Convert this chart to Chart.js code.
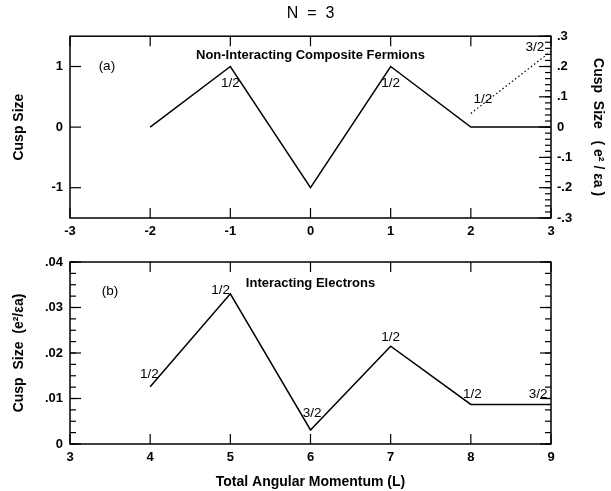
<!DOCTYPE html>
<html>
<head>
<meta charset="utf-8">
<script src="https://cdn.jsdelivr.net/npm/chart.js@4"></script>
<style>
  html, body { margin: 0; padding: 0; background: #fff; }
  #wrap { position: relative; width: 611px; height: 491px; }
  #top { position: absolute; left: 0; top: 0; }
  #bottom { position: absolute; left: 0; top: 245px; }
</style>
</head>
<body>
<div id="wrap">
  <canvas id="top" width="611" height="245"></canvas>
  <canvas id="bottom" width="611" height="246"></canvas>
</div>
<script>
// panel (a) - non-interacting composite fermions
const cfL = [-2, -1, 0, 1, 2, 3];
const cfCusp = [0, 1, -1, 1, 0, 0];
const cfDotL = [2, 3];
const cfDotCusp = [0.045, 0.25]; // read on the right axis (e^2/εa)
const cfTicksX = [-3, -2, -1, 0, 1, 2, 3];
const cfTicksLeft = [-1, 0, 1];
const cfTicksRight = [-0.3, -0.2, -0.1, 0, 0.1, 0.2, 0.3];
const cfNotes = [['1/2', -1, 0.72], ['1/2', 1, 0.72], ['1/2', 2.15, 0.46], ['3/2', 2.8, 1.31]];

// panel (b) - interacting electrons
const elL = [4, 5, 6, 7, 8, 9];
const elCusp = [0.0126, 0.033, 0.0031, 0.0215, 0.0087, 0.0087];
const elTicksX = [3, 4, 5, 6, 7, 8, 9];
const elTicksY = [0, 0.01, 0.02, 0.03, 0.04];
const elNotes = [['1/2', 3.99, 0.0153], ['1/2', 4.88, 0.0338], ['3/2', 6.02, 0.0068],
                 ['1/2', 7.0, 0.0235], ['1/2', 8.02, 0.011], ['3/2', 8.84, 0.011]];

const FAM = '"Liberation Sans", Arial, Helvetica, sans-serif';
const tickFont = { family: FAM, size: 13, weight: 'bold' };
const titleFont = { family: FAM, size: 14, weight: 'bold' };
const fmt = v => v === 0 ? '0' : String(v).replace('0.', '.');
const setTicks = arr => s => { s.ticks = arr.map(v => ({ value: v })); };

function steps(a, b, d) {
  const out = [];
  for (let v = a; v <= b + d / 2; v += d) out.push(+v.toFixed(6));
  return out;
}

// frame, inward tick marks and text notes
const framePlugin = {
  id: 'frame',
  afterDatasetsDraw(chart, args, opts) {
    const { ctx, chartArea: a } = chart;
    ctx.save();
    ctx.strokeStyle = '#000';
    ctx.lineWidth = 1.5;
    ctx.strokeRect(a.left, a.top, a.right - a.left, a.bottom - a.top);
    ctx.lineWidth = 1.2;
    opts.marks.forEach(m => {
      const s = chart.scales[m.axis];
      m.values.forEach(v => {
        const p = s.getPixelForValue(v);
        ctx.beginPath();
        if (s.isHorizontal()) {
          ctx.moveTo(p, a.bottom); ctx.lineTo(p, a.bottom - m.len);
          ctx.moveTo(p, a.top); ctx.lineTo(p, a.top + m.len);
        } else if (m.side === 'left') {
          ctx.moveTo(a.left, p); ctx.lineTo(a.left + m.len, p);
        } else {
          ctx.moveTo(a.right, p); ctx.lineTo(a.right - m.len, p);
        }
        ctx.stroke();
      });
    });
    ctx.fillStyle = '#000';
    ctx.textAlign = 'center';
    ctx.textBaseline = 'middle';
    opts.notes.forEach(([t, x, y, size, weight]) => {
      ctx.font = (weight || 'normal') + ' ' + (size || 13.5) + 'px ' + FAM;
      ctx.fillText(t, chart.scales.x.getPixelForValue(x), chart.scales.y.getPixelForValue(y));
    });
    ctx.restore();
  }
};

const lineStyle = { borderColor: '#000', borderWidth: 1.5, pointRadius: 0, tension: 0, fill: false };

new Chart(document.getElementById('top'), {
  type: 'line',
  data: {
    datasets: [
      Object.assign({ data: cfL.map((x, i) => ({ x, y: cfCusp[i] })), yAxisID: 'y' }, lineStyle),
      Object.assign({}, lineStyle, { data: cfDotL.map((x, i) => ({ x, y: cfDotCusp[i] })), yAxisID: 'y1',
        borderWidth: 1.2, borderDash: [1.5, 2.5] })
    ]
  },
  options: {
    responsive: false,
    animation: false,
    layout: { padding: 0 },
    plugins: {
      legend: { display: false },
      tooltip: { enabled: false },
      title: { display: true, text: 'N  =  3', fullSize: false, color: '#000',
        font: { family: FAM, size: 16, weight: 'normal' }, padding: { top: 4, bottom: 13 } },
      frame: {
        marks: [
          { axis: 'x', values: cfTicksX, len: 10 },
          { axis: 'y', side: 'left', values: cfTicksLeft, len: 11 },
          { axis: 'y1', side: 'right', values: steps(-0.3, 0.3, 0.02), len: 6 },
          { axis: 'y1', side: 'right', values: cfTicksRight, len: 12 }
        ],
        notes: cfNotes.concat([['(a)', -2.54, 1.0, 13.5], ['Non-Interacting Composite Fermions', 0, 1.19, 13, 'bold']])
      }
    },
    scales: {
      x: { type: 'linear', min: -3, max: 3, afterBuildTicks: setTicks(cfTicksX),
        grid: { display: false, drawTicks: false }, border: { display: false },
        ticks: { padding: 6, color: '#000', font: tickFont, callback: fmt, maxRotation: 0 },
        afterFit: s => { s.height = 27; } },
      y: { min: -1.5, max: 1.5, position: 'left', afterBuildTicks: setTicks(cfTicksLeft),
        grid: { display: false, drawTicks: false }, border: { display: false },
        ticks: { padding: 7, color: '#000', font: tickFont, callback: fmt },
        title: { display: true, text: 'Cusp Size', color: '#000', font: titleFont,
          padding: { top: 11, bottom: 0 } },
        afterFit: s => { s.width = 70; } },
      y1: { min: -0.3, max: 0.3, position: 'right', afterBuildTicks: setTicks(cfTicksRight),
        grid: { display: false, drawTicks: false }, border: { display: false },
        ticks: { padding: 6, color: '#000', font: tickFont, callback: fmt },
        title: { display: true, text: 'Cusp  Size   ( e² / εa )', color: '#000', font: titleFont,
          padding: { top: 5, bottom: 0 } },
        afterFit: s => { s.width = 60; } }
    }
  },
  plugins: [framePlugin]
});

new Chart(document.getElementById('bottom'), {
  type: 'line',
  data: {
    datasets: [
      Object.assign({ data: elL.map((x, i) => ({ x, y: elCusp[i] })) }, lineStyle)
    ]
  },
  options: {
    responsive: false,
    animation: false,
    layout: { padding: { top: 17, right: 60, left: 0, bottom: 0 } },
    plugins: {
      legend: { display: false },
      tooltip: { enabled: false },
      frame: {
        marks: [
          { axis: 'x', values: elTicksX, len: 10 },
          { axis: 'y', side: 'left', values: steps(0, 0.04, 0.0025), len: 6 },
          { axis: 'y', side: 'left', values: elTicksY, len: 11 },
          { axis: 'y', side: 'right', values: steps(0, 0.04, 0.0025), len: 6 },
          { axis: 'y', side: 'right', values: elTicksY, len: 11 }
        ],
        notes: elNotes.concat([['(b)', 3.5, 0.0336, 13.5], ['Interacting Electrons', 6.0, 0.0352, 13, 'bold']])
      }
    },
    scales: {
      x: { type: 'linear', min: 3, max: 9, afterBuildTicks: setTicks(elTicksX),
        grid: { display: false, drawTicks: false }, border: { display: false },
        ticks: { padding: 6, color: '#000', font: tickFont, callback: fmt, maxRotation: 0 },
        title: { display: true, text: 'Total Angular Momentum (L)', color: '#000',
          font: titleFont, padding: { top: 4, bottom: 0 } },
        afterFit: s => { s.height = 47; } },
      y: { min: 0, max: 0.04, position: 'left', afterBuildTicks: setTicks(elTicksY),
        grid: { display: false, drawTicks: false }, border: { display: false },
        ticks: { padding: 7, color: '#000', font: tickFont, callback: fmt },
        title: { display: true, text: 'Cusp  Size  (e²/εa)', color: '#000', font: titleFont,
          padding: { top: 11, bottom: 0 } },
        afterFit: s => { s.width = 70; } }
    }
  },
  plugins: [framePlugin]
});
</script>
</body>
</html>
